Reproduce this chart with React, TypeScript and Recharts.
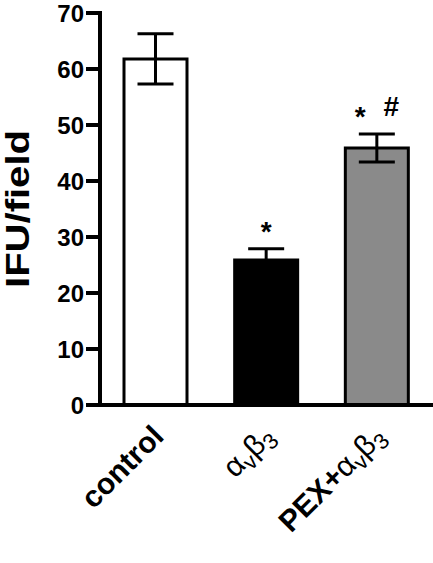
import React from 'react';
import { BarChart, Bar, XAxis, YAxis, ErrorBar, Cell, LabelList } from 'recharts';

// "_" marks the next character as a subscript
const categories = ['control', 'α_vβ_3', 'PEX+α_vβ_3'];
const means = [61.8, 25.9, 45.9];
const errors = [4.5, 2.0, 2.5];
const significance = ['', '*', '* #'];
const fills = ['#ffffff', '#000000', '#8a8a8a'];
const yTicks = [0, 10, 20, 30, 40, 50, 60, 70];
const yTitle = 'IFU/field';

const data = categories.map((c, i) => ({ name: c, value: means[i], err: errors[i], sig: significance[i] }));

const FONT = '"Liberation Sans", Arial, Helvetica, sans-serif';

function parseLabel(s: string) {
  const out: { t: string; sub: boolean; greek: boolean }[] = [];
  for (let i = 0; i < s.length; i++) {
    if (s[i] === '_' && i + 1 < s.length) {
      out.push({ t: s[i + 1], sub: true, greek: false });
      i++;
    } else {
      const greek = /[α-ω]/.test(s[i]);
      out.push({ t: s[i], sub: false, greek });
    }
  }
  return out;
}

function renderXTick(props: any) {
  const { x, y, payload, index } = props;
  const raw = String(payload.value);
  const ax = Number(x) + 10;
  const ay = Number(y) + 33;
  const parts = parseLabel(raw);
  let shifted = false;
  return (
    <text key={`xt-${index}`} x={ax} y={ay} textAnchor="end" transform={`rotate(-45 ${ax} ${ay})`}
      fontFamily={FONT} fontSize={30} fill="#000">
      {parts.map((p, i) => {
        let dy: any = undefined;
        if (p.sub && !shifted) { dy = 6; shifted = true; }
        else if (!p.sub && shifted) { dy = -6; shifted = false; }
        return (
          <tspan key={i} dy={dy} fontWeight={p.sub || p.greek ? 'normal' : 'bold'} fontSize={p.sub ? 22 : 30}>
            {p.t}
          </tspan>
        );
      })}
    </text>
  );
}

const YTick = (props: any) => {
  const { x, y, payload } = props;
  return (
    <text x={x} y={y} dy="0.355em" textAnchor="end" fontFamily={FONT} fontWeight="bold" fontSize={24} fill="#000">
      {payload.value}
    </text>
  );
};

const SigLabel = (props: any) => {
  const { x, y, width, height, value, index } = props;
  if (!value) return null;
  const d = data[index];
  const errPx = (height * d.err) / d.value;
  const baseY = y - errPx - 18;
  const chunks = String(value).split('');
  return (
    <text x={x + width / 2} y={baseY} textAnchor="middle" fontFamily={FONT} fontWeight="bold" fontSize={28}
      wordSpacing={10} fill="#000" style={{ whiteSpace: 'pre' }}>
      {chunks.map((c, i) => {
        const prev = i > 0 ? chunks[i - 1] : '';
        let dy: any = undefined;
        if (c === '*') dy = 10;
        else if (prev === '*') dy = -10;
        return (
          <tspan key={i} dy={dy} fontWeight="bold">
            {c}
          </tspan>
        );
      })}
    </text>
  );
};

const YTitle = (props: any) => {
  const vb = props.viewBox;
  const cx = 29;
  const cy = vb.y + vb.height / 2;
  return (
    <text x={cx} y={cy} textAnchor="middle" transform={`rotate(-90 ${cx} ${cy})`} fontFamily={FONT}
      fontWeight="bold" fontSize={33} textLength={158} lengthAdjust="spacingAndGlyphs" fill="#000">
      {yTitle}
    </text>
  );
};

export default function App() {
  return (
    <div style={{ position: 'absolute', left: 0, top: 0, width: 433, height: 563, background: '#fff' }}>
      <BarChart width={433} height={563} data={data} margin={{ top: 13, right: 1, bottom: 0, left: 0 }}>
        <XAxis
          dataKey="name"
          height={158}
          tickLine={false}
          tickSize={0}
          tickMargin={0}
          interval={0}
          axisLine={{ stroke: '#000', strokeWidth: 4, strokeLinecap: 'square' }}
          tick={renderXTick}
        />
        <YAxis
          width={100}
          domain={[0, 70]}
          ticks={yTicks}
          interval={0}
          tickSize={14}
          tickMargin={2}
          tickLine={{ stroke: '#000', strokeWidth: 4 }}
          axisLine={{ stroke: '#000', strokeWidth: 4, strokeLinecap: 'square' }}
          tick={<YTick />}
          label={<YTitle />}
        />
        <Bar dataKey="value" barSize={63} stroke="#000" strokeWidth={3} isAnimationActive={false}>
          {data.map((d, i) => (
            <Cell key={i} fill={fills[i]} />
          ))}
          <ErrorBar dataKey="err" width={18} stroke="#000" strokeWidth={3} direction="y" isAnimationActive={false} />
          <LabelList dataKey="sig" content={<SigLabel />} />
        </Bar>
      </BarChart>
    </div>
  );
}
